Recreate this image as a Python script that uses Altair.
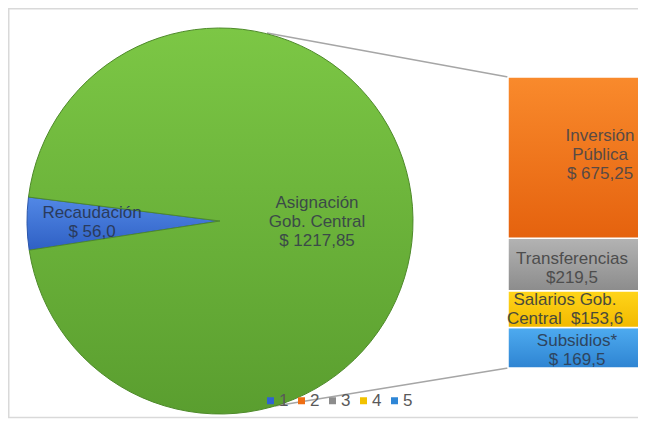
import math
import altair as alt
import pandas as pd

# ---------------- data ----------------
pie_keys = [1, 2]
pie_text = ["Recaudación\n$ 56,0", "Asignación\nGob. Central\n$ 1217,85"]
pie_values = [56.0, 1217.85]

bar_keys = [1, 2, 3, 4]  # bottom -> top
bar_text = ["Subsidios*\n$ 169,5", "Salarios Gob.\nCentral \u00a0$153,6",
            "Transferencias\n$219,5", "Inversión\nPública\n$ 675,25"]
bar_values = [169.5, 153.6, 219.5, 675.25]

legend_keys = ["1", "2", "3", "4", "5"]

# ---------------- styles / layout ----------------
W, H = 630, 411
CX, CY, R = 212, 213, 193
START = math.radians(261.3)
PIE_TOTAL = sum(pie_values)
BAR_TOTAL = sum(bar_values)
BAR_TOP, BAR_BOTTOM = 69, 360
BAR_X0, BAR_X1 = 500, 640
FONT = "Liberation Sans"
FS, LH = 17, 19


def grad(c0, c1):
    return alt.LinearGradient(gradient="linear", x1=0, y1=0, x2=0, y2=1,
                              stops=[alt.GradientStop(color=c0, offset=0),
                                     alt.GradientStop(color=c1, offset=1)])


pie_style = {
    1: dict(fill=grad("#5288E6", "#2F60C4"), stroke="#2A55AA", label_r=128,
            color="#2A3B5C", lines=2, shift=0),
    2: dict(fill=grad("#7CC745", "#5A9E2F"), stroke="#4E8A2A", label_r=97,
            color="#3B4A48", lines=3, shift=2.5),
}
bar_style = {
    1: dict(fill=grad("#4EABF0", "#2E84D2"), lx=569, color="#2E4560", lines=2, shift=2.5),
    2: dict(fill=grad("#FFD51A", "#F2B900"), lx=557, color="#4A4A3A", lines=2, shift=0),
    3: dict(fill=grad("#B3B3B3", "#8C8C8C"), lx=564, color="#4D4D4D", lines=2, shift=4),
    4: dict(fill=grad("#F98A2C", "#E5620E"), lx=592, color="#594A44", lines=3, shift=-3),
}
legend_colors = ["#2F63D0", "#EE6E14", "#8C8C8C", "#F2C200", "#2E86D6"]

pie_df = pd.DataFrame({"idx": pie_keys, "text": pie_text, "value": pie_values})
bar_df = pd.DataFrame({"idx": bar_keys, "text": bar_text, "value": bar_values})
leg_df = pd.DataFrame({"key": legend_keys})

theta_scale = alt.Scale(domain=[0, PIE_TOTAL], range=[START, START + 2 * math.pi])
y_scale = alt.Scale(domain=[0, BAR_TOTAL], range=[BAR_BOTTOM, BAR_TOP])

pie_base = (alt.Chart(pie_df)
            .transform_window(cum="sum(value)", sort=[alt.SortField("idx")], frame=[None, 0])
            .transform_calculate(start="datum.cum - datum.value",
                                 mid="datum.cum - datum.value / 2"))
bar_base = (alt.Chart(bar_df)
            .transform_window(cum="sum(value)", sort=[alt.SortField("idx")], frame=[None, 0])
            .transform_calculate(start="datum.cum - datum.value",
                                 mid="datum.cum - datum.value / 2"))

layers = []

# frame (top, left, bottom)
one = alt.Chart(pd.DataFrame({"a": [0]}))
for (xa, ya, xb, yb) in [(0, 0.75, W, 0.75), (0.75, 0, 0.75, H - 1), (0, H - 1.5, W, H - 1.5)]:
    layers.append(one.mark_rule(color="#D9D9D9", strokeWidth=1.5).encode(
        x=alt.value(xa), y=alt.value(ya), x2=alt.value(xb), y2=alt.value(yb)))

# connector lines
layers.append(one.mark_rule(color="#A6A6A6", strokeWidth=1.5).encode(
    x=alt.value(259), y=alt.value(25), x2=alt.value(BAR_X0), y2=alt.value(BAR_TOP)))
layers.append(one.mark_rule(color="#A6A6A6", strokeWidth=1.5).encode(
    x=alt.value(267), y=alt.value(398), x2=alt.value(BAR_X0), y2=alt.value(BAR_BOTTOM)))

# pie slices
for k in pie_keys:
    st = pie_style[k]
    layers.append(
        pie_base.transform_filter(alt.datum.idx == k)
        .mark_arc(outerRadius=R, fill=st["fill"], stroke=st["stroke"], strokeWidth=1)
        .encode(theta=alt.Theta("start:Q", scale=theta_scale),
                theta2="cum:Q", x=alt.value(CX), y=alt.value(CY)))

# pie labels
for k in pie_keys:
    st = pie_style[k]
    layers.append(
        pie_base.transform_filter(alt.datum.idx == k)
        .mark_text(radius=st["label_r"], font=FONT, fontSize=FS, lineBreak="\n",
                   lineHeight=LH, align="center", baseline="middle", color=st["color"],
                   dy=-(st["lines"] - 1) * LH / 2 + st["shift"])
        .encode(theta=alt.Theta("mid:Q", scale=theta_scale), text="text:N",
                x=alt.value(CX), y=alt.value(CY)))

# bar segments
for k in bar_keys:
    st = bar_style[k]
    layers.append(
        bar_base.transform_filter(alt.datum.idx == k)
        .mark_bar(fill=st["fill"], stroke="white", strokeWidth=1.5)
        .encode(y=alt.Y("start:Q", scale=y_scale, axis=None), y2="cum:Q",
                x=alt.value(BAR_X0), x2=alt.value(BAR_X1)))

# bar labels
for k in bar_keys:
    st = bar_style[k]
    layers.append(
        bar_base.transform_filter(alt.datum.idx == k)
        .mark_text(font=FONT, fontSize=FS, lineBreak="\n", lineHeight=LH,
                   align="center", baseline="middle", color=st["color"],
                   dy=-(st["lines"] - 1) * LH / 2 + st["shift"])
        .encode(y=alt.Y("mid:Q", scale=y_scale, axis=None), text="text:N",
                x=alt.value(st["lx"])))

# legend carrier
layers.append(
    alt.Chart(leg_df).mark_square(opacity=0, size=1).encode(
        x=alt.value(0), y=alt.value(0),
        color=alt.Color("key:N", scale=alt.Scale(domain=legend_keys, range=legend_colors),
                        legend=alt.Legend(orient="none", legendX=254, legendY=384,
                                          direction="horizontal", title=None,
                                          symbolType="square", symbolSize=49,
                                          symbolOpacity=1, symbolStrokeWidth=0,
                                          labelFontSize=17, labelFont=FONT,
                                          labelColor="#595959", labelOffset=0,
                                          columnPadding=4, padding=0))))

chart = (alt.layer(*layers)
         .properties(width=W, height=H, padding=0,
                     autosize=alt.AutoSizeParams(type="none"), background="white")
         .configure_view(stroke=None))

chart.save("out.html", embed_options={"renderer": "svg", "actions": False})
